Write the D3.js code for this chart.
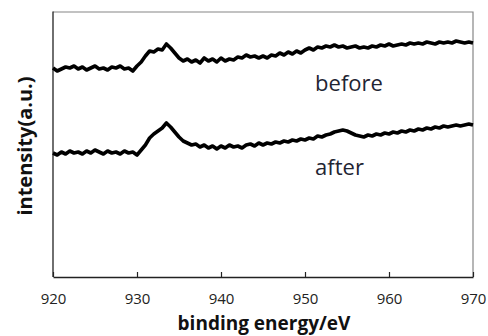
<!DOCTYPE html>
<html>
<head>
<meta charset="utf-8">
<script src="https://cdn.jsdelivr.net/npm/d3@7/dist/d3.min.js"></script>
<style>
  body { margin: 0; background: #fff; }
  text { font-family: "Open Sans", sans-serif; }
</style>
</head>
<body>
<div id="chart"></div>
<script>
// binding energy grid, 0.5 eV steps from 920 to 970
const energies = d3.range(0, 101).map(i => 920 + i * 0.5);

// intensity (a.u.)
const before = [
  209, 206, 208, 210, 209, 211, 208, 210, 207, 209,
  211, 208, 209, 207, 210, 209, 211, 208, 209, 206,
  211, 215, 221, 226, 225, 228, 227, 233, 229, 224,
  219, 216, 218, 215, 217, 214, 219, 216, 218, 215,
  219, 216, 218, 217, 220, 219, 222, 220, 221, 219,
  221, 219, 222, 221, 224, 222, 225, 223, 226, 224,
  227, 229, 227, 230, 229, 231, 230, 232, 230, 231,
  229, 230, 231, 229, 230, 229, 231, 230, 232, 231,
  233, 231, 232, 233, 232, 234, 233, 234, 233, 235,
  234, 233, 235, 234, 235, 234, 236, 235, 234, 235,
  234
];
const after = [
  124, 122, 125, 123, 126, 124, 125, 123, 126, 124,
  127, 125, 123, 126, 124, 125, 123, 126, 124, 125,
  122, 127, 132, 139, 143, 146, 149, 154, 150, 145,
  140, 136, 134, 132, 133, 130, 132, 129, 131, 128,
  131, 129, 132, 130, 131, 129, 132, 133, 131, 134,
  132, 134, 133, 135, 134, 136, 135, 137, 136, 138,
  137, 139, 138, 141, 140, 142, 143, 145, 146, 147,
  146, 144, 142, 141, 140, 142, 141, 143, 142, 144,
  143, 145, 144, 146, 145, 147, 146, 148, 147, 149,
  148, 150, 149, 151, 150, 151, 152, 151, 152, 153,
  152
];

const seriesNames = ["before", "after"];
const xTicks = [920, 930, 940, 950, 960, 970];

const width = 488, height = 336;
const margin = {top: 11.5, right: 15, bottom: 59, left: 53};
const plotW = width - margin.left - margin.right;
const plotH = height - margin.top - margin.bottom;

const svg = d3.select("#chart").append("svg")
    .attr("width", width)
    .attr("height", height);

const g = svg.append("g")
    .attr("transform", `translate(${margin.left}, ${margin.top})`);

const x = d3.scaleLinear().domain([920, 970]).range([0, plotW]);
const y = d3.scaleLinear().domain([0, 265.5]).range([plotH, 0]);

// plot area border (top and right)
g.append("path")
    .attr("d", `M0,0.5H${plotW}V${plotH}`)
    .attr("fill", "none")
    .attr("stroke", "#868686")
    .attr("stroke-width", 1.2);

// left axis line
g.append("line")
    .attr("x1", 0).attr("x2", 0)
    .attr("y1", 0).attr("y2", plotH)
    .attr("stroke", "#222")
    .attr("stroke-width", 1.3);

// bottom axis, ticks pointing inwards
const xAxis = g.append("g")
    .attr("transform", `translate(0, ${plotH})`)
    .call(d3.axisBottom(x).tickValues(xTicks).tickSizeInner(-5).tickSizeOuter(0).tickPadding(16).tickFormat(d3.format("d")));

xAxis.select(".domain").attr("stroke", "#222").attr("stroke-width", 1.3);
xAxis.selectAll(".tick line").attr("stroke", "#222").attr("stroke-width", 1.2);
xAxis.selectAll(".tick text")
    .attr("fill", "#222")
    .style("font-size", "15px");

// the two spectra
const line = d3.line()
    .x((d, i) => x(energies[i]))
    .y(d => y(d));

[before, after].forEach(s => {
    g.append("path")
        .datum(s)
        .attr("fill", "none")
        .attr("stroke", "#000")
        .attr("stroke-width", 3.6)
        .attr("stroke-linejoin", "round")
        .attr("d", line);
});

// series labels
g.append("text")
    .attr("x", x(951.2))
    .attr("y", 91 - margin.top)
    .attr("fill", "#1f2533")
    .style("font-size", "22px")
    .text(seriesNames[0]);

g.append("text")
    .attr("x", x(951.2))
    .attr("y", 175 - margin.top)
    .attr("fill", "#1f2533")
    .style("font-size", "22px")
    .text(seriesNames[1]);

// axis titles
svg.append("text")
    .attr("x", 264)
    .attr("y", 330)
    .attr("text-anchor", "middle")
    .attr("fill", "#111")
    .style("font-size", "19px")
    .style("font-weight", "bold")
    .text("binding energy/eV");

svg.append("text")
    .attr("transform", "translate(32, 146) rotate(-90)")
    .attr("text-anchor", "middle")
    .attr("fill", "#111")
    .style("font-size", "20px")
    .style("font-weight", "bold")
    .text("intensity(a.u.)");
</script>
</body>
</html>
